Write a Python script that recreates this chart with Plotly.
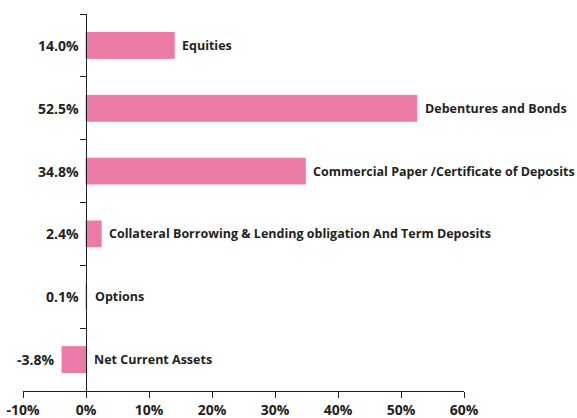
import plotly.graph_objects as go

categories = [
    "Equities",
    "Debentures and Bonds",
    "Commercial Paper /Certificate of Deposits",
    "Collateral Borrowing & Lending obligation And Term Deposits",
    "Options",
    "Net Current Assets",
]
values = [14.0, 52.5, 34.8, 2.4, 0.1, -3.8]
value_labels = [f"{v:.1f}%" for v in values]
x_ticks = [-10, 0, 10, 20, 30, 40, 50, 60]

BAR_COLOR = "#EC7AA7"
TEXT_COLOR = "#231F20"
FONT = "Open Sans"

fig = go.Figure()
fig.add_trace(
    go.Bar(
        x=values,
        y=value_labels,
        orientation="h",
        marker={"color": BAR_COLOR, "line": {"color": BAR_COLOR, "width": 1}},
        width=0.41,
        hoverinfo="skip",
    )
)

for name, v, lab in zip(categories, values, value_labels):
    # category name to the right of the bar
    fig.add_annotation(
        x=max(v, 0),
        y=lab,
        text=f"<b>{name}</b>",
        showarrow=False,
        xanchor="left",
        xshift=6,
        font={"family": FONT, "size": 12.5, "color": TEXT_COLOR},
    )
    # value label to the left of the bar / axis
    fig.add_annotation(
        x=min(v, 0),
        y=lab,
        text=f"<b>{lab}</b>",
        showarrow=False,
        xanchor="right",
        xshift=-5,
        font={"family": FONT, "size": 14, "color": TEXT_COLOR},
    )

fig.update_layout(
    width=577,
    height=418,
    margin={"l": 23, "r": 113, "t": 14, "b": 27},
    paper_bgcolor="white",
    plot_bgcolor="white",
    showlegend=False,
    font={"family": FONT, "color": TEXT_COLOR},
    xaxis={
        "range": [-10, 60],
        "tickvals": x_ticks,
        "ticktext": [f"<b>{t}%</b>" for t in x_ticks],
        "showgrid": False,
        "zeroline": False,
        "showline": True,
        "linecolor": TEXT_COLOR,
        "linewidth": 1,
        "ticks": "outside",
        "ticklen": 6,
        "tickcolor": TEXT_COLOR,
        "tickfont": {"family": FONT, "size": 14, "color": TEXT_COLOR},
        "ticklabelstandoff": 0,
        "automargin": False,
        "fixedrange": True,
    },
    yaxis={
        "type": "category",
        "categoryorder": "array",
        "categoryarray": value_labels,
        "autorange": "reversed",
        "anchor": "free",
        "position": 1 / 7,
        "tickson": "boundaries",
        "ticks": "outside",
        "ticklen": 6,
        "tickcolor": TEXT_COLOR,
        "showline": True,
        "linecolor": TEXT_COLOR,
        "linewidth": 1,
        "showgrid": False,
        "zeroline": False,
        "showticklabels": False,
        "automargin": False,
        "fixedrange": True,
    },
)

fig.write_html(
    "out.html",
    config={"displayModeBar": False},
    post_script="document.body.style.margin='0';document.body.style.overflow='hidden';",
)
